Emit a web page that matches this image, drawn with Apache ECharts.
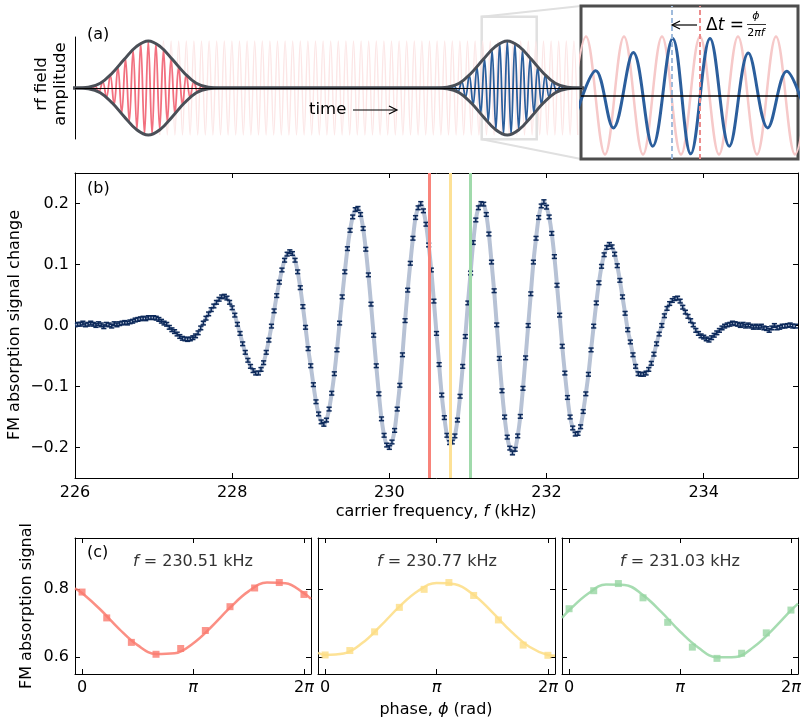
<!DOCTYPE html>
<html>
<head>
<meta charset="utf-8">
<script src="https://cdn.jsdelivr.net/npm/echarts@6/dist/echarts.min.js"></script>
<style>
  html, body { margin: 0; padding: 0; background: #fff; }
  #chart { width: 808px; height: 725px; }
</style>
</head>
<body>
<div id="chart"></div>
<script>
// ---------- (b) Ramsey fringes ----------
const freqStart = 226;
const freqStep = 1 / 30;           // kHz between scan points
const signal = [
  0.001, 0.002, 0.002, 0.004, 0.001, 0.002, 0.004, 0.002, 0.000, 0.003,
  0.001, -0.002, 0.002, 0.001, -0.001, 0.003, 0.001, 0.003, 0.004, 0.005,
  0.004, 0.006, 0.007, 0.009, 0.010, 0.011, 0.012, 0.011, 0.013, 0.013,
  0.013, 0.012, 0.010, 0.007, 0.004, 0.002, -0.003, -0.007, -0.010, -0.014,
  -0.018, -0.021, -0.022, -0.023, -0.022, -0.020, -0.017, -0.012, -0.004, 0.004,
  0.012, 0.019, 0.026, 0.032, 0.038, 0.043, 0.047, 0.048, 0.045, 0.038,
  0.029, 0.017, 0.002, -0.013, -0.030, -0.044, -0.057, -0.067, -0.074, -0.078,
  -0.078, -0.072, -0.061, -0.044, -0.024, -0.001, 0.024, 0.049, 0.071, 0.091,
  0.107, 0.117, 0.121, 0.118, 0.107, 0.088, 0.062, 0.031, -0.003, -0.038,
  -0.066, -0.097, -0.125, -0.145, -0.158, -0.162, -0.155, -0.137, -0.111, -0.079,
  -0.040, 0.004, 0.047, 0.088, 0.126, 0.156, 0.178, 0.190, 0.192, 0.182,
  0.159, 0.125, 0.083, 0.035, -0.016, -0.066, -0.112, -0.153, -0.180, -0.196,
  -0.200, -0.191, -0.172, -0.137, -0.098, -0.048, 0.008, 0.058, 0.102, 0.143,
  0.177, 0.193, 0.200, 0.188, 0.166, 0.132, 0.091, 0.040, -0.013, -0.064,
  -0.114, -0.151, -0.180, -0.192, -0.191, -0.181, -0.155, -0.116, -0.067, -0.018,
  0.037, 0.086, 0.136, 0.173, 0.193, 0.200, 0.199, 0.182, 0.150, 0.104,
  0.057, 0.001, -0.054, -0.107, -0.150, -0.183, -0.201, -0.209, -0.203, -0.181,
  -0.149, -0.103, -0.053, 0.000, 0.052, 0.104, 0.143, 0.177, 0.196, 0.203,
  0.194, 0.178, 0.151, 0.113, 0.066, 0.017, -0.034, -0.078, -0.118, -0.150,
  -0.168, -0.178, -0.177, -0.166, -0.141, -0.112, -0.080, -0.040, -0.001, 0.037,
  0.070, 0.097, 0.116, 0.128, 0.133, 0.129, 0.117, 0.098, 0.074, 0.047,
  0.020, -0.007, -0.027, -0.048, -0.067, -0.079, -0.080, -0.080, -0.078, -0.072,
  -0.062, -0.047, -0.030, -0.014, 0.000, 0.016, 0.028, 0.036, 0.041, 0.044,
  0.045, 0.040, 0.030, 0.022, 0.015, 0.008, 0.001, -0.008, -0.013, -0.017,
  -0.019, -0.022, -0.024, -0.020, -0.016, -0.012, -0.008, -0.004, -0.001, 0.001,
  0.002, 0.004, 0.003, 0.002, 0.000, 0.002, -0.001, 0.001, -0.001, -0.003,
  -0.001, -0.003, -0.001, -0.004, -0.005, -0.008, -0.004, 0.000, -0.004, -0.003,
  -0.001, -0.001, 0.000, 0.001, -0.001, -0.001
];
const errorBar = 0.003;
const freqTicks = [226, 228, 230, 232, 234];
const signalTicks = [-0.2, -0.1, 0, 0.1, 0.2];
const markerFreqs = [230.51, 230.77, 231.03];

// ---------- (c) phase scans ----------
const phases = [0, 0.698, 1.396, 2.094, 2.793, 3.491, 4.189, 4.887, 5.585, 6.283];
const scanRed = [0.791, 0.715, 0.643, 0.608, 0.625, 0.678, 0.748, 0.803, 0.819, 0.784];
const scanYellow = [0.606, 0.619, 0.674, 0.746, 0.799, 0.819, 0.781, 0.709, 0.635, 0.605];
const scanGreen = [0.742, 0.795, 0.816, 0.774, 0.702, 0.629, 0.596, 0.611, 0.671, 0.738];
const fitPhases = [-0.2, 0, 0.524, 1.047, 1.571, 2.094, 2.618, 3.142, 3.665, 4.189, 4.712, 5.236, 5.760, 6.283, 6.483];
const fitRed = [0.802, 0.788, 0.739, 0.683, 0.635, 0.609, 0.611, 0.640, 0.689, 0.745, 0.793, 0.819, 0.817, 0.788, 0.771];
const fitYellow = [0.612, 0.606, 0.610, 0.641, 0.692, 0.748, 0.794, 0.818, 0.814, 0.783, 0.732, 0.676, 0.630, 0.606, 0.604];
const fitGreen = [0.715, 0.737, 0.785, 0.813, 0.812, 0.782, 0.732, 0.675, 0.627, 0.599, 0.600, 0.630, 0.680, 0.737, 0.757];
const scanFreqs = ['230.51', '230.77', '231.03'];
const phaseTicks = [0, Math.PI, 2 * Math.PI];
const phaseTickLabels = ['0', '{i|π}', '2{i|π}'];
const levelTicks = [0.6, 0.8];

// ---------- (a) pulse schematic (x in px along the time axis) ----------
const pulseCenters = [73.3, 432.3];
const envOffsets = [-84, -72, -60, -48, -36, -24, -12, 0, 12, 24, 36, 48, 60, 72, 84];
const envShape = [0, 0, 0.015, 0.1, 0.32, 0.61, 0.88, 1, 0.88, 0.61, 0.32, 0.1, 0.015, 0, 0];
const halfCycle = 3.8;
const pulseExtrema = [0.01, -0.02, 0.04, -0.08, 0.14, -0.2, 0.28, -0.36, 0.45, -0.54, 0.63, -0.72,
  0.81, -0.89, 0.96, -0.99, 1, -0.99, 0.96, -0.89, 0.81, -0.72, 0.63, -0.54, 0.45, -0.36, 0.28,
  -0.2, 0.14, -0.08, 0.04, -0.02, 0.01];
const carrierFirst = 3;           // first faint carrier extremum, in half cycles from pulse 1
const carrierExtrema = [
  -1, 1, -1, 1, -1, 1, -1, 1, -1, 1, -1, 1, -1, 1, -1, 1, -1, 1, -1, 1,
  -1, 1, -1, 1, -1, 1, -1, 1, -1, 1, -1, 1, -1, 1, -1, 1, -1, 1, -1, 1,
  -1, 1, -1, 1, -1, 1, -1, 1, -1, 1, -1, 1, -1, 1, -1, 1, -1, 1, -1, 1,
  -1, 1, -1, 1, -1, 1, -1, 1, -1, 1, -1, 1, -1, 1, -1, 1, -1, 1, -1, 1,
  -1, 1, -1, 1, -1, 1, -1, 1, -1, 1, -1, 1, -1, 1, -1, 1, -1, 1, -1, 1,
  -1, 1, -1, 1, -1, 1, -1, 1, -1, 1, -1
];
// inset
const insetPinkX = [-14, 5, 24, 43, 62, 81, 100, 119, 138, 157, 176, 195, 214, 233];
const insetPinkY = [-1, 1, -1, 1, -1, 1, -1, 1, -1, 1, -1, 1, -1, 1];
const insetBlueX = [-4, 14.7, 32.3, 52.3, 71.7, 91.7, 109.7, 129, 148.3, 167.3, 186.7, 205.7, 224.5];
const insetBlueY = [-0.28, 0.42, -0.55, 0.73, -0.86, 0.97, -0.99, 0.97, -0.86, 0.72, -0.55, 0.41, -0.28];
const insetMarks = [90.7, 119];

// colours
const navy = '#0d2a5b';
const fitGrey = '#b7c2d5';
const markerColors = ['#f8837a', '#fde196', '#a0daab'];
const scanColors = ['#fa7b6f', '#fddd84', '#97d6a3'];
const pulseRed = '#f2707f';
const pulseBlue = '#2b5e9c';
const envGrey = '#4a4f57';
const FONT = 'DejaVu Sans';

const chart = echarts.init(document.getElementById('chart'));

function frameAxis(gridIndex, position, min, max, ticks, labels, formatter) {
  return {
    type: 'value', gridIndex: gridIndex, position: position, min: min, max: max,
    axisLine: { show: true, onZero: false, lineStyle: { color: '#000', width: 1 } },
    axisTick: { show: true, inside: true, length: 5, customValues: ticks, lineStyle: { color: '#000' } },
    axisLabel: {
      show: labels, customValues: ticks, color: '#000', fontFamily: FONT, fontSize: 16,
      margin: 7, formatter: formatter,
      rich: { i: { fontStyle: 'italic', fontFamily: FONT, fontSize: 16, color: '#000' } }
    },
    splitLine: { show: false }
  };
}

const fmtSignal = v => (v < -1e-9 ? '−' : '') + Math.abs(v).toFixed(1);
const fmtPhase = v => {
  let best = 0;
  phaseTicks.forEach((t, i) => { if (Math.abs(t - v) < Math.abs(phaseTicks[best] - v)) best = i; });
  return phaseTickLabels[best];
};

const xAxes = [
  { type: 'value', gridIndex: 0, min: 0, max: 507, show: false },
  { type: 'value', gridIndex: 1, min: 0, max: 217, show: false },
  frameAxis(2, 'bottom', 226, 235.2, freqTicks, true, v => String(v)),
  frameAxis(2, 'top', 226, 235.2, freqTicks, false)
];
const yAxes = [
  { type: 'value', gridIndex: 0, min: -1.085, max: 1.085,
    axisLine: { show: true, onZero: false, lineStyle: { color: '#000', width: 1 } },
    axisTick: { show: false }, axisLabel: { show: false }, splitLine: { show: false } },
  { type: 'value', gridIndex: 1, min: -1.078, max: 1.52, show: false },
  frameAxis(2, 'left', -0.25, 0.25, signalTicks, true, fmtSignal),
  frameAxis(2, 'right', -0.25, 0.25, signalTicks, false)
];
for (let p = 0; p < 3; p++) {
  xAxes.push(frameAxis(3 + p, 'bottom', -0.2, 6.483, phaseTicks, true, fmtPhase));
  xAxes.push(frameAxis(3 + p, 'top', -0.2, 6.483, phaseTicks, false));
  yAxes.push(frameAxis(3 + p, 'left', 0.55, 0.95, levelTicks, p === 0, v => v.toFixed(1)));
  yAxes.push(frameAxis(3 + p, 'right', 0.55, 0.95, levelTicks, false));
}
xAxes.forEach(a => { if (a.axisLabel && a.gridIndex >= 3) a.axisLabel.margin = 6; });
yAxes.forEach(a => { if (a.axisLabel && a.gridIndex >= 2) a.axisLabel.margin = 6; });

const series = [];

// (a) faint carrier
series.push({
  type: 'line', xAxisIndex: 0, yAxisIndex: 0, symbol: 'none', smooth: 0.37, z: 1,
  lineStyle: { color: '#fce6e6', width: 1.4 },
  data: carrierExtrema.map((v, j) => [pulseCenters[0] + (carrierFirst + j) * halfCycle, v])
});
// (a) pulses
[pulseRed, pulseBlue].forEach((col, p) => {
  series.push({
    type: 'line', xAxisIndex: 0, yAxisIndex: 0, symbol: 'none', smooth: 0.37, z: 2,
    lineStyle: { color: col, width: 1.8 },
    data: pulseExtrema.map((v, j) => [pulseCenters[p] + (j - 16) * halfCycle, v])
  });
});
// (a) centre line + envelopes
series.push({
  type: 'line', xAxisIndex: 0, yAxisIndex: 0, symbol: 'none', z: 3, data: [],
  markLine: { silent: true, symbol: 'none', label: { show: false },
    lineStyle: { color: '#000', width: 1, type: 'solid' }, data: [{ yAxis: 0 }] }
});
[1, -1].forEach(sign => {
  const pts = [[0, 0]];
  pulseCenters.forEach(c => envOffsets.forEach((o, k) => pts.push([c + o, sign * envShape[k]])));
  pts.push([507, 0]);
  series.push({
    type: 'line', xAxisIndex: 0, yAxisIndex: 0, symbol: 'none', smooth: 0.4, z: 4,
    lineStyle: { color: envGrey, width: 3 }, data: pts
  });
});

// inset
series.push({
  type: 'line', xAxisIndex: 1, yAxisIndex: 1, symbol: 'none', smooth: 0.37, z: 1,
  lineStyle: { color: '#f6c9c9', width: 2.5 },
  data: insetPinkX.map((x, i) => [x, insetPinkY[i]])
});
series.push({
  type: 'line', xAxisIndex: 1, yAxisIndex: 1, symbol: 'none', z: 2, data: [],
  markLine: { silent: true, symbol: 'none', label: { show: false },
    data: [
      { xAxis: insetMarks[0], lineStyle: { color: '#9fbbdc', width: 2, type: [5, 3] } },
      { xAxis: insetMarks[1], lineStyle: { color: '#ec8c8c', width: 2, type: [5, 3] } },
      { yAxis: 0, lineStyle: { color: '#000', width: 1.5, type: 'solid' } }
    ] }
});
series.push({
  type: 'line', xAxisIndex: 1, yAxisIndex: 1, symbol: 'none', smooth: 0.37, z: 3,
  lineStyle: { color: pulseBlue, width: 3 },
  data: insetBlueX.map((x, i) => [x, insetBlueY[i]])
});

// (b)
const scan = signal.map((v, i) => [freqStart + i * freqStep, v, errorBar]);
series.push({
  type: 'line', xAxisIndex: 2, yAxisIndex: 2, symbol: 'none', smooth: 0.3, z: 2,
  lineStyle: { color: fitGrey, width: 4 },
  data: scan.map(d => [d[0], d[1]])
});
series.push({
  type: 'line', xAxisIndex: 2, yAxisIndex: 2, symbol: 'none', z: 3, data: [],
  markLine: { silent: true, symbol: 'none', label: { show: false },
    data: markerFreqs.map((f, i) => ({ xAxis: f, lineStyle: { color: markerColors[i], width: 3, type: 'solid' } })) }
});
series.push({
  type: 'custom', xAxisIndex: 2, yAxisIndex: 2, z: 4, clip: true, data: scan,
  encode: { x: 0, y: 1 },
  renderItem: function (params, api) {
    const x = api.value(0), y = api.value(1), e = api.value(2);
    const top = api.coord([x, y + e]);
    const bot = api.coord([x, y - e]);
    const w = 2.6;
    const st = { stroke: navy, lineWidth: 1.5 };
    return {
      type: 'group', children: [
        { type: 'line', shape: { x1: top[0], y1: top[1], x2: bot[0], y2: bot[1] }, style: st },
        { type: 'line', shape: { x1: top[0] - w, y1: top[1], x2: top[0] + w, y2: top[1] }, style: st },
        { type: 'line', shape: { x1: bot[0] - w, y1: bot[1], x2: bot[0] + w, y2: bot[1] }, style: st }
      ]
    };
  }
});

// (c)
const scans = [scanRed, scanYellow, scanGreen];
const fits = [fitRed, fitYellow, fitGreen];
for (let p = 0; p < 3; p++) {
  series.push({
    type: 'line', xAxisIndex: 4 + 2 * p, yAxisIndex: 4 + 2 * p, symbol: 'none', smooth: 0.4, z: 2,
    lineStyle: { color: scanColors[p], width: 2.5, opacity: 0.85 },
    data: fitPhases.map((x, i) => [x, fits[p][i]])
  });
  series.push({
    type: 'scatter', xAxisIndex: 4 + 2 * p, yAxisIndex: 4 + 2 * p, symbol: 'rect', symbolSize: 7, z: 3,
    itemStyle: { color: scanColors[p] },
    data: phases.map((x, i) => [x, scans[p][i]])
  });
}

function label(x, y, text, opts) {
  const o = opts || {};
  return {
    type: 'text', x: x, y: y, rotation: o.rotation || 0, z: 10,
    style: {
      text: text, fill: o.fill || '#000', fontFamily: FONT, fontSize: o.size || 16,
      align: o.align || 'center', verticalAlign: 'middle', lineHeight: o.lineHeight,
      rich: {
        i: { fontStyle: 'italic', fontFamily: FONT, fontSize: o.size || 16, fill: o.fill || '#000' },
        n: { fontFamily: FONT, fontSize: o.size || 16, fill: o.fill || '#000' }
      }
    }
  };
}

const graphic = [
  // (a)
  label(87, 35, '(a)', { align: 'left' }),
  label(51, 84, 'rf field\namplitude', { rotation: Math.PI / 2, size: 16.5, lineHeight: 19 }),
  label(309, 110, 'time', { align: 'left', size: 16.5 }),
  { type: 'line', z: 10, shape: { x1: 353, y1: 110, x2: 396, y2: 110 }, style: { stroke: '#000', lineWidth: 1.2 } },
  { type: 'polyline', z: 10, shape: { points: [[389, 106], [397, 110], [389, 114]] }, style: { stroke: '#000', lineWidth: 1.2, fill: null } },
  { type: 'rect', z: -1, shape: { x: 481.7, y: 16.7, width: 55, height: 122.6 }, style: { fill: null, stroke: '#e0e0e0', lineWidth: 2.5 } },
  { type: 'line', z: -1, shape: { x1: 481.7, y1: 16.7, x2: 581, y2: 6 }, style: { stroke: '#e0e0e0', lineWidth: 2 } },
  { type: 'line', z: -1, shape: { x1: 481.7, y1: 139.3, x2: 581, y2: 159 }, style: { stroke: '#e0e0e0', lineWidth: 2 } },
  // inset annotation
  { type: 'line', z: 10, shape: { x1: 673, y1: 25, x2: 697, y2: 25 }, style: { stroke: '#000', lineWidth: 1.2 } },
  { type: 'polyline', z: 10, shape: { points: [[680, 21], [672, 25], [680, 29]] }, style: { stroke: '#000', lineWidth: 1.2, fill: null } },
  label(706, 26, '{n|Δ}{i|t}{n| =}', { align: 'left', size: 17 }),
  label(756, 16, '{i|ϕ}', { size: 11 }),
  { type: 'line', z: 10, shape: { x1: 747, y1: 24.5, x2: 766, y2: 24.5 }, style: { stroke: '#000', lineWidth: 0.8 } },
  label(756, 33, '{n|2}{i|πf}', { size: 11 }),
  // (b)
  label(87, 189, '(b)', { align: 'left' }),
  label(15, 325, 'FM absorption signal change', { rotation: Math.PI / 2 }),
  label(436, 512, 'carrier frequency, {i|f} (kHz)'),
  // (c)
  label(87, 553, '(c)', { align: 'left' }),
  label(27, 606, 'FM absorption signal', { rotation: Math.PI / 2 }),
  label(436, 710, 'phase, {i|ϕ} (rad)'),
  label(193, 562, '{i|f}{n| = ' + scanFreqs[0] + ' kHz}', { fill: '#333' }),
  label(437, 562, '{i|f}{n| = ' + scanFreqs[1] + ' kHz}', { fill: '#333' }),
  label(680, 562, '{i|f}{n| = ' + scanFreqs[2] + ' kHz}', { fill: '#333' })
];

chart.setOption({
  animation: false,
  backgroundColor: '#fff',
  grid: [
    { left: 75, top: 37, width: 507, height: 102 },
    { left: 581, top: 6, width: 217, height: 153, show: true, borderColor: '#4d4d4d', borderWidth: 3, backgroundColor: '#fff' },
    { left: 75, top: 173, width: 723, height: 305 },
    { left: 75, top: 538, width: 236, height: 136 },
    { left: 318, top: 538, width: 237, height: 136 },
    { left: 562, top: 538, width: 236, height: 136 }
  ],
  xAxis: xAxes,
  yAxis: yAxes,
  series: series,
  graphic: graphic
});
</script>
</body>
</html>
